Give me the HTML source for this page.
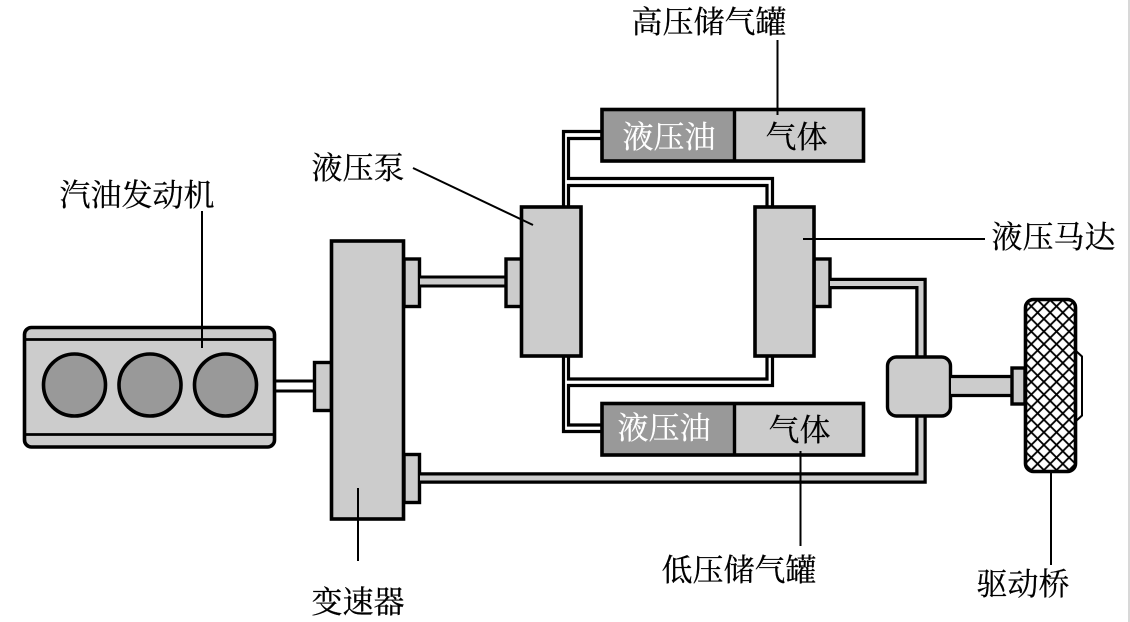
<!DOCTYPE html>
<html lang="zh">
<head>
<meta charset="utf-8">
<style>
html,body{margin:0;padding:0;background:#fff;width:1130px;height:622px;overflow:hidden}
svg{display:block}
text{font-family:"Liberation Serif","Noto Serif CJK SC",serif;font-size:31px;fill:#000;stroke:#000;stroke-width:.25px}
text.w{fill:#fff;stroke:#fff}
</style>
</head>
<body>
<svg width="1130" height="622" viewBox="0 0 1130 622" xmlns="http://www.w3.org/2000/svg">
<defs>
<pattern id="hatch" width="12.6" height="12.6" patternUnits="userSpaceOnUse" x="1025" y="300">
<rect width="12.6" height="12.6" fill="#fff"/>
<path d="M-3.15 3.15L3.15 -3.15M0 12.6L12.6 0M9.45 15.75L15.75 9.45M-3.15 9.45L3.15 15.75M0 0L12.6 12.6M9.45 -3.15L15.75 3.15" stroke="#000" stroke-width="1.8"/>
</pattern>
</defs>
<rect width="1130" height="622" fill="#fff"/>
<rect x="1128" y="0" width="2" height="622" fill="#d8d8d8"/>

<!-- engine -->
<rect x="24.5" y="327.5" width="250" height="119.5" rx="7" fill="#ccc" stroke="#000" stroke-width="3.6"/>
<path d="M24 339.5H275M24 434.5H275" stroke="#000" stroke-width="2.8"/>
<g fill="#999" stroke="#000" stroke-width="3.6">
<circle cx="74.5" cy="385" r="31"/>
<circle cx="150" cy="385" r="31"/>
<circle cx="225.5" cy="385" r="31"/>
</g>
<!-- engine shaft -->
<path d="M275 381H315M275 391H315" stroke="#000" stroke-width="3"/>

<!-- transmission -->
<rect x="314.5" y="362.5" width="17" height="48" fill="#ccc" stroke="#000" stroke-width="3.4"/>
<rect x="331.5" y="241" width="72" height="278" fill="#ccc" stroke="#000" stroke-width="3.6"/>
<rect x="404" y="259" width="15.5" height="47.5" fill="#ccc" stroke="#000" stroke-width="3.4"/>
<rect x="404" y="454.5" width="15.5" height="48" fill="#ccc" stroke="#000" stroke-width="3.4"/>

<!-- top shaft to pump -->
<rect x="420" y="277" width="86" height="9" fill="#ccc"/>
<path d="M420 277H506M420 286H506" stroke="#000" stroke-width="3"/>

<!-- pipes top -->
<g fill="none" stroke="#000" stroke-width="3.2">
<path d="M601 131.5H563.5V207"/>
<path d="M601 138.5H568.5V178.5H772.5V207"/>
<path d="M568.5 207V185.5H767V207"/>
<!-- pipes bottom -->
<path d="M563.5 356V431.5H601"/>
<path d="M601 425H568.5V385.5H772.5V356"/>
<path d="M568.5 356V379H767V356"/>
</g>

<!-- pump / motor -->
<rect x="506" y="259" width="16" height="47.5" fill="#ccc" stroke="#000" stroke-width="3.4"/>
<rect x="521.5" y="207" width="59.5" height="149" fill="#ccc" stroke="#000" stroke-width="3.6"/>
<rect x="814" y="259" width="16" height="47.5" fill="#ccc" stroke="#000" stroke-width="3.4"/>
<rect x="755" y="207" width="59" height="149" fill="#ccc" stroke="#000" stroke-width="3.6"/>

<!-- tanks -->
<rect x="602" y="109.5" width="132" height="51" fill="#999"/>
<rect x="734" y="109.5" width="129" height="51" fill="#ccc"/>
<rect x="602" y="109.5" width="261.5" height="51.5" fill="none" stroke="#000" stroke-width="3.6"/>
<path d="M734.5 109V161" stroke="#000" stroke-width="3.4"/>
<rect x="602" y="403.5" width="132" height="51" fill="#999"/>
<rect x="734" y="403.5" width="129" height="51" fill="#ccc"/>
<rect x="602" y="403.5" width="261.5" height="51.5" fill="none" stroke="#000" stroke-width="3.6"/>
<path d="M734.5 403V455" stroke="#000" stroke-width="3.4"/>

<!-- gray pipes to differential -->
<path d="M830 283.5H921V478H420" fill="none" stroke="#000" stroke-width="11.5"/>
<path d="M830 283.5H921V478H420" fill="none" stroke="#ccc" stroke-width="5"/>

<!-- differential -->
<rect x="887.5" y="357" width="63" height="59" rx="9" fill="#ccc" stroke="#000" stroke-width="3.4"/>
<rect x="951" y="376.5" width="61" height="19" fill="#ccc"/>
<path d="M951 376.5H1012M951 395.5H1012" stroke="#000" stroke-width="3.2"/>
<rect x="1012" y="368" width="13" height="36" fill="#ccc" stroke="#000" stroke-width="3.4"/>

<!-- wheel -->
<path d="M1076 351L1082 356.5V415.5L1076 421" fill="#fff" stroke="#000" stroke-width="2"/>
<rect x="1025.5" y="299.5" width="50" height="172" rx="8" fill="url(#hatch)" stroke="#000" stroke-width="3.6"/>

<!-- leader lines -->
<g stroke="#000" stroke-width="2" fill="none">
<path d="M202 211V348"/>
<path d="M777.5 40V115"/>
<path d="M413 168L533 225"/>
<path d="M803 239H985"/>
<path d="M800.5 451V546"/>
<path d="M358 488V561"/>
<path d="M1051 473V565"/>
</g>

<!-- labels -->
<text x="631.5" y="33">高压储气罐</text>
<text x="59.5" y="206">汽油发动机</text>
<text x="311.5" y="179">液压泵</text>
<text x="991.5" y="248">液压马达</text>
<text x="661.5" y="581">低压储气罐</text>
<text x="311.5" y="613">变速器</text>
<text x="976.5" y="595">驱动桥</text>
<text class="w" x="622.5" y="148">液压油</text>
<text x="765.5" y="148">气体</text>
<text class="w" x="617.5" y="439">液压油</text>
<text x="768.5" y="441">气体</text>
</svg>
</body>
</html>
